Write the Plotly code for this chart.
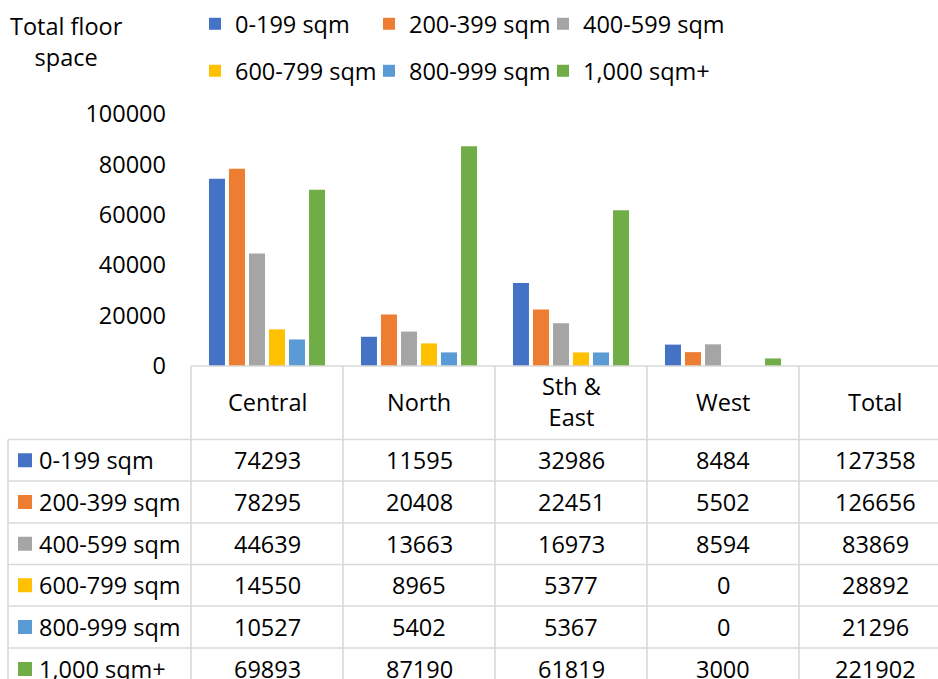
import plotly.graph_objects as go

# ---------------- data ----------------
categories = ["Central", "North", "Sth & East", "West", "Total"]
header_labels = ["Central", "North", "Sth &amp;<br>East", "West", "Total"]
series_names = ["0-199 sqm", "200-399 sqm", "400-599 sqm",
                "600-799 sqm", "800-999 sqm", "1,000 sqm+"]
sqm_0_199 = [74293, 11595, 32986, 8484, 127358]
sqm_200_399 = [78295, 20408, 22451, 5502, 126656]
sqm_400_599 = [44639, 13663, 16973, 8594, 83869]
sqm_600_799 = [14550, 8965, 5377, 0, 28892]
sqm_800_999 = [10527, 5402, 5367, 0, 21296]
sqm_1000_plus = [69893, 87190, 61819, 3000, 221902]
series_values = [sqm_0_199, sqm_200_399, sqm_400_599,
                 sqm_600_799, sqm_800_999, sqm_1000_plus]
y_ticks = [0, 20000, 40000, 60000, 80000, 100000]
y_title = "Total floor<br>space"

# ---------------- style ----------------
colors = ["#4472C4", "#ED7D31", "#A5A5A5", "#FFC000", "#5B9BD5", "#70AD47"]
FONT = "Open Sans"
FS = 23.5
TXT = "#000000"
GRID = "#D9D9D9"

W, H = 938, 679
PL, PR, PT, PB = 191, 938, 114, 366   # plot area in pixels
COL_W = 152
n_plot = 4  # regions drawn as bars (Total is shown in the table only)


def px_x(p):
    return (p - PL) / (PR - PL)


def px_y(p):
    return (PB - p) / (PB - PT)


fig = go.Figure()
for i, (name, vals) in enumerate(zip(series_names, series_values)):
    fig.add_trace(go.Bar(
        x=categories[:n_plot], y=vals[:n_plot], name=name,
        marker=dict(color=colors[i], line=dict(width=0)),
        legend="legend" if i < 3 else "legend2",
        legendwidth=129 if i % 3 < 2 else 170,
        hoverinfo="x+y+name",
    ))

# ---------------- table ----------------
shapes = []
line = dict(color=GRID, width=1.6)
left_x = 8
col_edges = [PL + k * COL_W for k in range(len(categories))]
row_edges = [439.5, 481, 523, 564.5, 606, 648, 690]
shapes.append(dict(type="line", xref="paper", yref="paper",
                   x0=px_x(PL), x1=px_x(W), y0=px_y(PB), y1=px_y(PB), line=line))
for r in row_edges[:-1]:
    shapes.append(dict(type="line", xref="paper", yref="paper",
                       x0=px_x(left_x), x1=px_x(W), y0=px_y(r), y1=px_y(r), line=line))
shapes.append(dict(type="line", xref="paper", yref="paper",
                   x0=px_x(left_x), x1=px_x(left_x), y0=px_y(row_edges[0]), y1=px_y(H + 5), line=line))
for c in col_edges:
    shapes.append(dict(type="line", xref="paper", yref="paper",
                       x0=px_x(c), x1=px_x(c), y0=px_y(PB), y1=px_y(H + 5), line=line))

annotations = []
for k, lab in enumerate(header_labels):
    cx = PL + (k + 0.5) * COL_W
    annotations.append(dict(text=lab, xref="paper", yref="paper",
                            x=px_x(cx), y=px_y((PB + row_edges[0]) / 2 - 1),
                            xanchor="center", yanchor="middle", showarrow=False,
                            font=dict(family=FONT, size=FS, color=TXT)))
for i, (name, vals) in enumerate(zip(series_names, series_values)):
    cy = (row_edges[i] + row_edges[i + 1]) / 2
    shapes.append(dict(type="rect", xref="paper", yref="paper",
                       x0=px_x(18), x1=px_x(32), y0=px_y(cy - 7), y1=px_y(cy + 7),
                       fillcolor=colors[i], line=dict(width=0)))
    annotations.append(dict(text=name, xref="paper", yref="paper",
                            x=px_x(37), y=px_y(cy), xanchor="left", yanchor="middle",
                            showarrow=False, font=dict(family=FONT, size=FS, color=TXT)))
    for k, v in enumerate(vals):
        cx = PL + (k + 0.5) * COL_W
        annotations.append(dict(text=str(v), xref="paper", yref="paper",
                                x=px_x(cx), y=px_y(cy), xanchor="center", yanchor="middle",
                                showarrow=False, font=dict(family=FONT, size=FS, color=TXT)))
annotations.append(dict(text=y_title, xref="paper", yref="paper",
                        x=px_x(66), y=px_y(42), xanchor="center", yanchor="middle",
                        align="center", showarrow=False,
                        font=dict(family=FONT, size=FS, color=TXT)))

legend_common = dict(orientation="h", xanchor="left", yanchor="middle",
                     bgcolor="rgba(0,0,0,0)", borderwidth=0,
                     font=dict(family=FONT, size=FS, color=TXT),
                     traceorder="normal")

fig.update_layout(
    width=W, height=H,
    paper_bgcolor="white", plot_bgcolor="white",
    margin=dict(l=PL, r=0, t=PT, b=H - PB, autoexpand=False),
    barmode="group", bargap=0.21, bargroupgap=0.2,
    font=dict(family=FONT, size=FS, color=TXT),
    showlegend=True,
    legend=dict(x=px_x(195), y=px_y(24), **legend_common),
    legend2=dict(x=px_x(195), y=px_y(71), **legend_common),
    xaxis=dict(type="category", categoryorder="array", categoryarray=categories,
               range=[-0.5, -0.5 + (PR - PL) / COL_W], showticklabels=False,
               showgrid=False, zeroline=False, showline=False, ticks=""),
    yaxis=dict(range=[0, 100000], tickvals=y_ticks, tickformat="d",
               showgrid=False, zeroline=False, showline=False, ticks="",
               ticklabelstandoff=24,
               tickfont=dict(family=FONT, size=FS, color=TXT)),
    shapes=shapes, annotations=annotations,
)

fig.write_html("out.html",
               config={"displayModeBar": False},
               post_script="document.body.style.margin='0';"
                           "document.body.style.overflow='hidden';")
